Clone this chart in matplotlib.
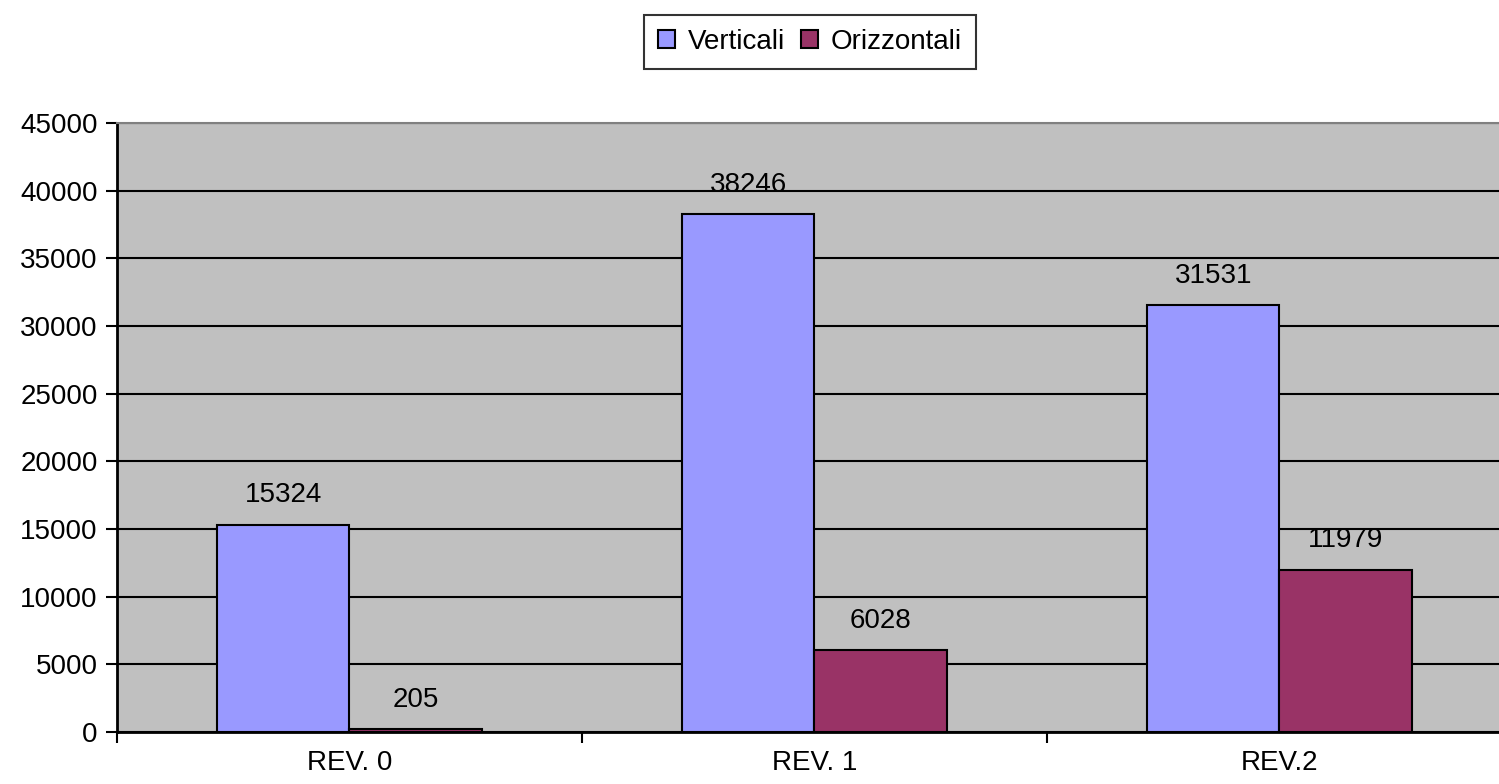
import matplotlib.pyplot as plt
import numpy as np

plt.rcParams['font.family'] = ['Liberation Sans', 'DejaVu Sans']

# dati
categorie = ['REV. 0', 'REV. 1', 'REV.2']
verticali = [15324, 38246, 31531]
orizzontali = [205, 6028, 11979]

fs = 20

fig = plt.figure(figsize=(14.99, 7.84), dpi=100)
ax = fig.add_axes([117 / 1499, 52 / 784, 1395 / 1499, 609 / 784])
ax.set_facecolor('#C0C0C0')

x = np.arange(len(categorie)) + 0.5
w = 0.284
b1 = ax.bar(x - w / 2, verticali, w, color='#9999FF', edgecolor='black', linewidth=1.5, label='Verticali', zorder=3)
b2 = ax.bar(x + w / 2, orizzontali, w, color='#993366', edgecolor='black', linewidth=1.5, label='Orizzontali', zorder=3)

for bars in (b1, b2):
    for r in bars:
        ax.annotate(str(int(r.get_height())), (r.get_x() + r.get_width() / 2, r.get_height()),
                    xytext=(0, 12), textcoords='offset points', ha='center', va='bottom', fontsize=fs)

ax.set_xlim(0, 3)
ax.set_ylim(0, 45000)
ax.set_yticks(np.arange(0, 45001, 5000))
ax.yaxis.grid(True, color='black', linewidth=1.5, zorder=1)
ax.set_axisbelow(True)

ax.set_xticks([0, 1, 2, 3])
ax.set_xticklabels([])
ax.set_xticks(x, minor=True)
ax.set_xticklabels(categorie, minor=True)
ax.tick_params(axis='x', which='minor', length=0, pad=13, labelsize=fs)
ax.tick_params(axis='x', which='major', length=8, width=1.5, direction='out')
ax.tick_params(axis='y', length=8, width=1.5, direction='out', labelsize=fs, pad=6)

ax.spines['top'].set_color('#808080')
ax.spines['top'].set_linewidth(1.5)
ax.spines['left'].set_linewidth(2)
ax.spines['bottom'].set_linewidth(2)
ax.spines['right'].set_visible(False)

leg = fig.legend(loc='center', bbox_to_anchor=(810 / 1499, 1 - 42 / 784), ncol=2, fontsize=fs,
                 frameon=True, fancybox=False, edgecolor='black', handlelength=0.6, handleheight=0.6,
                 handletextpad=0.45, columnspacing=0.6, borderpad=0.5, borderaxespad=0.6)
leg.get_frame().set_linewidth(1.5)

fig.savefig('out.png', dpi=100)
